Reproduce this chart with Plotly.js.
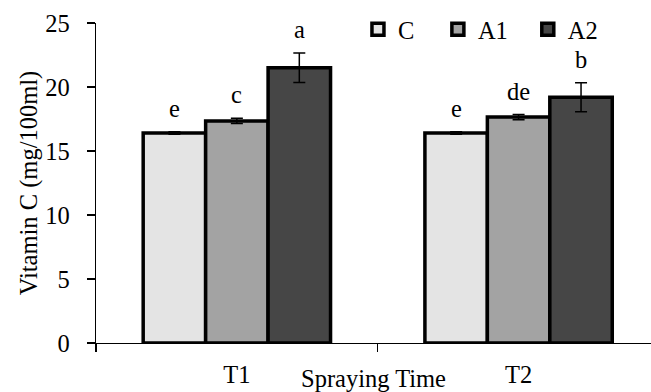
<!DOCTYPE html>
<html>
<head>
<meta charset="utf-8">
<script src="https://cdn.plot.ly/plotly-3.0.1.min.js"></script>
<style>html,body{margin:0;padding:0;background:#fff;}#chart{width:651px;height:392px;}</style>
</head>
<body>
<div id="chart"></div>
<script>
// ---- data ----
const categories = ['T1', 'T2'];
const seriesNames = ['C', 'A1', 'A2'];
const valuesC  = [16.4, 16.4];
const valuesA1 = [17.35, 17.65];
const valuesA2 = [21.5, 19.2];
const errorsC  = [0.1, 0.1];
const errorsA1 = [0.2, 0.2];
const errorsA2 = [1.15, 1.13];
const lettersC  = ['e', 'e'];
const lettersA1 = ['c', 'de'];
const lettersA2 = ['a', 'b'];
const yTickValues = [0, 5, 10, 15, 20, 25];

const FONT = 'Liberation Serif, Times New Roman, serif';
const FS = 24.5;
const colors = ['#e4e4e4', '#a3a3a3', '#464646'];
const values = [valuesC, valuesA1, valuesA2];
const errors = [errorsC, errorsA1, errorsA2];
const letters = [lettersC, lettersA1, lettersA2];
const xPos = categories.map((_, i) => i);
const bargap = 0.335;
const slot = (1 - bargap) / seriesNames.length;
const legendIds = ['legend', 'legend2', 'legend3'];
const legendX = [0.472, 0.616, 0.778];

const traces = seriesNames.map((name, s) => ({
  type: 'bar',
  name: name,
  legend: legendIds[s],
  x: xPos,
  y: values[s],
  marker: {color: colors[s], line: {color: '#000', width: 3.5}},
  error_y: {type: 'data', array: errors[s], visible: true, color: '#000', thickness: 1.5, width: 6},
  hoverinfo: 'skip'
}));

const annotations = [];
seriesNames.forEach((name, s) => {
  xPos.forEach((x, i) => {
    annotations.push({
      x: x + (s - (seriesNames.length - 1) / 2) * slot,
      y: values[s][i] + errors[s][i],
      xref: 'x', yref: 'y',
      text: letters[s][i],
      showarrow: false,
      yanchor: 'bottom',
      yshift: 8,
      font: {family: FONT, size: FS, color: '#000'}
    });
  });
});

const layout = {
  width: 651, height: 392,
  margin: {l: 96, r: 0, t: 23, b: 49},
  paper_bgcolor: '#fff', plot_bgcolor: '#fff',
  font: {family: FONT, size: FS, color: '#000'},
  barmode: 'group',
  bargap: bargap,
  bargroupgap: 0,
  showlegend: true,
  xaxis: {
    range: [-0.5, 1.47],
    tickvals: xPos, ticktext: categories,
    ticks: '', ticklabelstandoff: 9,
    showline: true, linecolor: '#000', linewidth: 1.3,
    showgrid: false, zeroline: false,
    minor: {tickvals: [-0.5, 0.5], ticks: 'outside', ticklen: 8, tickwidth: 1.3, tickcolor: '#000', showgrid: false},
    title: {text: 'Spraying Time', font: {family: FONT, size: FS}, standoff: 0},
    fixedrange: true
  },
  yaxis: {
    range: [0, 25],
    tickvals: yTickValues,
    ticks: 'outside', ticklen: 8, tickwidth: 1.3, tickcolor: '#000',
    ticklabelstandoff: 12,
    showline: true, linecolor: '#000', linewidth: 1.3,
    showgrid: false, zeroline: false,
    title: {text: 'Vitamin C (mg/100ml)', font: {family: FONT, size: FS}},
    fixedrange: true
  },
  annotations: annotations
};
legendIds.forEach((id, s) => {
  layout[id] = {
    orientation: 'h', x: legendX[s], xanchor: 'left', y: 0.98, yanchor: 'middle',
    font: {family: FONT, size: FS, color: '#000'},
    bgcolor: 'rgba(0,0,0,0)'
  };
});

Plotly.newPlot('chart', traces, layout, {displayModeBar: false, staticPlot: true});
</script>
</body>
</html>
